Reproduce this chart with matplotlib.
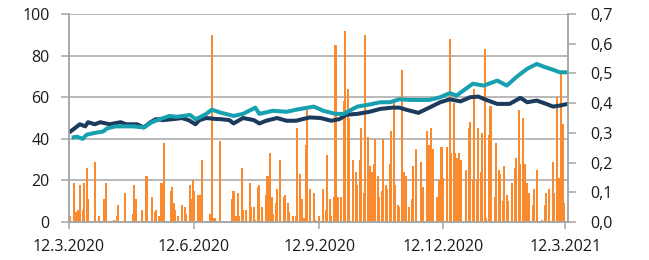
import matplotlib
matplotlib.use("Agg")
import matplotlib.pyplot as plt
from matplotlib.ticker import FuncFormatter

plt.rcParams['font.family'] = ['Open Sans', 'DejaVu Sans']

# X axis: days since 12.3.2020
x_tick_days = [0, 92, 184, 275, 365]
x_tick_labels = ["12.3.2020", "12.6.2020", "12.9.2020", "12.12.2020", "12.3.2021"]

# Orange bars (left-axis units)
bar_day = [1, 4, 5, 7, 8, 10, 11, 13, 14, 19, 22, 26, 27, 33, 35, 36, 41, 47, 48, 49,
           54, 57, 61, 63, 64, 66, 68, 69, 70, 75, 76, 77, 78, 80, 83, 85, 86, 89, 90, 91,
           92, 95, 96, 98, 104, 105, 107, 111, 120, 121, 123, 124, 125, 127, 128, 130, 133, 134, 136, 137,
           139, 140, 142, 145, 146, 148, 149, 150, 152, 153, 155, 158, 159, 161, 162, 165, 167, 168, 170, 171,
           173, 174, 175, 177, 180, 181, 184, 187, 189, 190, 192, 193, 195, 196, 198, 200, 202, 203, 205, 206,
           209, 211, 212, 214, 215, 217, 218, 220, 221, 223, 224, 225, 227, 228, 230, 231, 233, 234, 236, 237,
           239, 240, 242, 243, 245, 246, 248, 250, 252, 253, 255, 259, 260, 263, 265, 266, 268, 271, 272, 274,
           275, 278, 280, 281, 283, 284, 285, 287, 288, 292, 294, 295, 297, 298, 300, 301, 303, 304, 306, 307,
           309, 310, 313, 314, 316, 317, 319, 320, 322, 323, 326, 328, 329, 331, 332, 334, 335, 337, 338, 341,
           342, 344, 348, 350, 351, 353, 356, 357, 359, 360, 362, 363, 364]
bar_val = [3, 19, 5, 6, 18, 6, 19, 26, 11, 29, 3, 11, 19, 1, 3, 8, 14, 4, 18, 11,
           6, 22, 12, 5, 6, 3, 19, 7, 38, 15, 17, 9, 6, 3, 8, 7, 4, 18, 11, 20,
           15, 13, 13, 30, 4, 90, 2, 39, 11, 15, 3, 14, 3, 26, 6, 6, 19, 7, 7, 1,
           17, 18, 7, 13, 22, 33, 12, 4, 9, 16, 30, 12, 13, 9, 5, 3, 3, 45, 23, 11,
           2, 37, 54, 16, 14, 1, 3, 16, 6, 32, 11, 3, 12, 85, 12, 12, 58, 92, 64, 50,
           30, 24, 18, 30, 45, 14, 90, 41, 27, 24, 28, 40, 22, 12, 15, 40, 18, 16, 28, 44,
           58, 18, 8, 7, 73, 24, 22, 7, 11, 27, 35, 29, 17, 44, 37, 45, 35, 12, 20, 36,
           21, 36, 88, 33, 57, 33, 31, 33, 30, 25, 45, 48, 20, 64, 20, 45, 24, 43, 83, 2,
           42, 56, 12, 38, 25, 23, 10, 27, 13, 10, 19, 26, 31, 54, 28, 50, 28, 19, 14, 8,
           16, 25, 1, 8, 14, 16, 29, 14, 60, 21, 71, 47, 9]

# Navy line
navy_day = [0, 6, 8, 12, 14, 19, 23, 30, 38, 42, 50, 55, 60, 64, 69, 77, 83, 88, 93, 96,
            101, 109, 111, 118, 121, 128, 136, 140, 145, 153, 160, 167, 177, 185, 193, 199, 204, 212, 221, 229,
            238, 243, 248, 257, 265, 273, 280, 288, 295, 301, 307, 315, 324, 332, 337, 344, 351, 356, 361, 367]
navy_val = [43, 46, 47, 46, 48, 47, 48, 47, 48, 47, 47, 45.5, 48, 49.5, 49, 49.5, 50, 49, 47, 49,
            50, 49.5, 49.5, 49, 47.4, 50, 49, 47.4, 48.7, 50, 48.7, 48.7, 50.3, 50, 48.7, 49.5, 51.6, 52, 53, 54.4,
            55, 55, 54, 52.5, 55, 57.6, 59, 58, 60, 60.3, 58.7, 56.8, 56.8, 59.7, 57.6, 58.4, 56.8, 55.5, 56, 56.8]

# Teal line
teal_day = [2, 6, 10, 13, 20, 25, 28, 34, 40, 47, 55, 61, 67, 74, 79, 84, 89, 93, 96, 101,
            105, 111, 121, 128, 137, 140, 150, 160, 167, 180, 187, 196, 202, 212, 221, 229, 236, 243, 251, 257,
            265, 273, 280, 285, 290, 297, 305, 315, 322, 329, 337, 344, 350, 356, 361, 367]
teal_val = [40.6, 41, 40, 42, 43, 43.5, 45, 46, 46, 46, 45.5, 48, 49.5, 51, 50.6, 51, 51.5, 49.5, 50.3, 52,
            54, 52.7, 51, 52, 55, 52, 53.5, 53, 54, 55.5, 53.5, 52, 52, 55.5, 56.5, 57.6, 57.6, 59, 58.7, 58.7,
            58.7, 60, 62, 60.8, 63.2, 66.5, 65.6, 68, 65.6, 69.7, 73.7, 76, 74.5, 73.2, 72, 72]

ORANGE = '#FB8A2E'
TEAL = '#17A0B0'
NAVY = '#1C3A5C'
GRID = '#A6A6A6'

fig = plt.figure(figsize=(6.49, 2.60), dpi=100)
ax = fig.add_axes([0.1063, 0.146, 0.7689, 0.8])

ax.grid(axis='y', color=GRID, linewidth=1.1, zorder=0)
ax.set_axisbelow(True)
ax.bar(bar_day, bar_val, width=1.55, color=ORANGE, linewidth=0, zorder=2)
ax.plot(navy_day, navy_val, color=NAVY, linewidth=2.9, zorder=3, solid_capstyle='butt')
ax.plot(teal_day, teal_val, color=TEAL, linewidth=2.9, zorder=4, solid_capstyle='butt')

ax.set_xlim(0, 367)
ax.set_ylim(0, 100)
ax.set_yticks([0, 20, 40, 60, 80, 100])
ax.set_xticks(x_tick_days)
ax.set_xticklabels(x_tick_labels)

ax2 = ax.twinx()
ax2.set_ylim(0, 0.7)
ax2.set_yticks([0.0, 0.1, 0.2, 0.3, 0.4, 0.5, 0.6, 0.7])
ax2.yaxis.set_major_formatter(FuncFormatter(lambda v, p: f"{v:.1f}".replace('.', ',')))

for a in (ax, ax2):
    for s in a.spines.values():
        s.set_color(GRID)
        s.set_linewidth(1.1)
    a.spines['top'].set_visible(False)
    a.tick_params(colors=GRID, labelcolor='#1a1a1a', labelsize=11.5, width=1.1)

ax.tick_params(axis='y', length=6, pad=8)
ax.tick_params(axis='x', length=5, pad=7)
ax2.tick_params(axis='y', length=6, pad=10)

fig.savefig('out.png', dpi=100)
